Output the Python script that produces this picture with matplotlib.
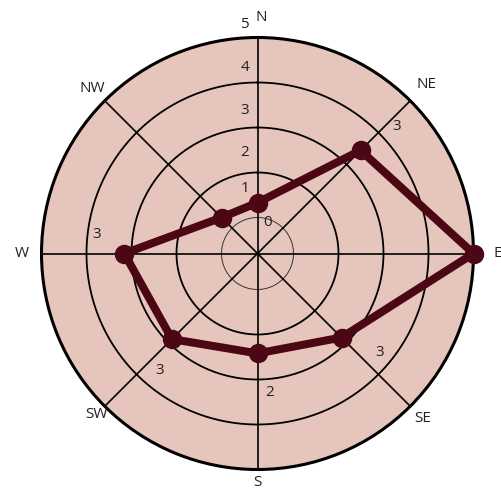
#!/usr/bin/env python3
"""Radar chart of values by compass direction."""

import matplotlib

matplotlib.use("Agg")
import matplotlib.pyplot as plt
import numpy as np

plt.rcParams["font.family"] = ["Open Sans", "DejaVu Sans"]

# data
directions = ["N", "NE", "E", "SE", "S", "SW", "W", "NW"]
values = [1.33, 3.44, 5.0, 2.84, 2.42, 2.89, 3.16, 1.33]
ring_levels = [1, 2, 3, 4, 5]
scale_labels = ["0", "1", "2", "3", "4", "5"]
value_labels = {"NE": "3", "SE": "3", "S": "2", "SW": "3", "W": "3"}

FILL = "#e6c6bc"
LINE = "#4c0714"
W, H = 502, 488
CX, CY, R = 257.5, 253.5, 216


def px(x, y):
    return x / W, 1 - y / H


fig = plt.figure(figsize=(W / 100, H / 100), dpi=100)
ax = fig.add_axes([(CX - R) / W, 1 - (CY + R) / H, 2 * R / W, 2 * R / H], projection="polar")
ax.set_theta_zero_location("N")
ax.set_theta_direction(-1)
ax.set_ylim(0.2, 5)
ax.set_facecolor(FILL)
ax.grid(False)
ax.set_xticks([])
ax.set_yticks([])
ax.spines["polar"].set_linewidth(2.2)

theta = np.deg2rad(np.arange(len(directions)) * 45.0)
circ = np.linspace(0, 2 * np.pi, 400)
for lvl in ring_levels[:-1]:
    if lvl == 1:
        ax.plot(circ, np.full_like(circ, lvl), color="#333333", lw=0.7)
    else:
        ax.plot(circ, np.full_like(circ, lvl), color="black", lw=1.3)
for t in theta:
    ax.plot([t, t], [0.2, 5], color="black", lw=1.2)

t_closed = np.append(theta, theta[0])
v_closed = np.append(values, values[0])
ax.plot(t_closed, v_closed, color=LINE, lw=5.8, solid_joinstyle="miter", zorder=5)
ax.plot(theta, values, "o", color=LINE, ms=13, zorder=6, clip_on=False)

# direction labels
label_r = [236, 239, 240, 234, 229, 228, 236, 234]
for t, name, rp in zip(theta, directions, label_r):
    x = CX + rp * np.sin(t)
    y = CY - rp * np.cos(t)
    if name == "N":
        x += 4
    fig.text(*px(x, y), name, ha="center", va="center", fontsize=11, color="#222222")

# scale labels along the north spoke
scale_pos = [(268, 222), (245, 188), (245, 152), (245, 111), (245, 67), (244, 25)]
for lab, (x, y) in zip(scale_labels, scale_pos):
    fig.text(*px(x, y), lab, ha="center", va="center", fontsize=11, color="#222222")

# value annotations
value_pos = {"NE": (397, 127), "SE": (380, 352), "S": (270, 392), "SW": (160, 370), "W": (97, 235)}
for name, lab in value_labels.items():
    fig.text(*px(*value_pos[name]), lab, ha="center", va="center", fontsize=11, color="#222222")

fig.savefig("out.png", dpi=100)
